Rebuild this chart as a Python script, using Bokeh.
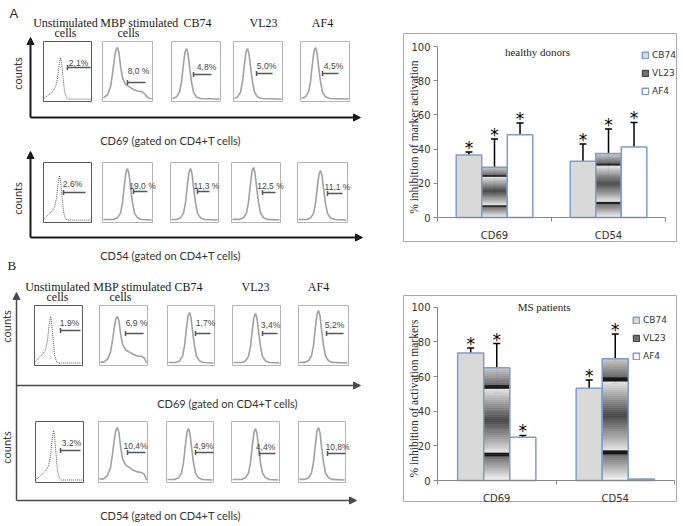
import numpy as np
from math import pi, nan, isnan
from bokeh.plotting import figure
from bokeh.models import (Range1d, LinearAxis, FixedTicker, Label, Legend, LegendItem,
                          Whisker, TeeHead, ColumnDataSource, Arrow, NormalHead, Spacer)
from bokeh.layouts import row, column
from bokeh.core.properties import value
from bokeh.embed import file_html
from bokeh.resources import INLINE

# ---------------- data ----------------
conditions = ["Unstimulated cells", "MBP stimulated cells", "CB74", "VL23", "AF4"]
pct_A_CD69 = ["2,1%", "8,0 %", "4,8%", "5,0%", "4,5%"]
pct_A_CD54 = ["2.6%", "19,0 %", "11,3 %", "12,5 %", "11,1 %"]
pct_B_CD69 = ["1.9%", "6,9 %", "1,7%", "3,4%", "5,2%"]
pct_B_CD54 = ["3.2%", "10,4%", "4,9%", "4,4%", "10,8%"]

markers = ["CD69", "CD54"]
series = ["CB74", "VL23", "AF4"]
yticks = [0, 20, 40, 60, 80, 100]

healthy_mean = {"CB74": [36.6, 32.9], "VL23": [29.4, 37.4], "AF4": [48.4, 41.2]}
healthy_low = {"CB74": [34.6, 22.0], "VL23": [13.2, 23.2], "AF4": [41.4, 27.0]}
healthy_high = {"CB74": [38.3, 43.0], "VL23": [45.9, 51.8], "AF4": [55.3, 55.6]}
healthy_star = {"CB74": [True, True], "VL23": [True, True], "AF4": [True, True]}

ms_mean = {"CB74": [73.5, 53.3], "VL23": [65.0, 70.2], "AF4": [25.0, 0.8]}
ms_low = {"CB74": [70.0, 47.7], "VL23": [51.0, 56.0], "AF4": [23.6, nan]}
ms_high = {"CB74": [76.5, 58.0], "VL23": [79.0, 84.5], "AF4": [26.0, nan]}
ms_star = {"CB74": [True, True], "VL23": [True, True], "AF4": [True, False]}

# ---------------- styles ----------------
EDGE = "#7f9ccb"
CB_FILL = "#d9d9d9"
SERIF = "Liberation Serif"
SANS = "Liberation Sans"


def gray_hex(g):
    g = int(max(0, min(255, round(g))))
    return "#%02x%02x%02x" % (g, g, g)


# gradient stops for the VL23 bars (relative height -> gray level)
GRAD_T = [0.0, 0.22, 0.22, 0.25, 0.25, 0.535, 0.82, 0.82, 0.85, 0.85, 1.0]
GRAD_G = [250, 105, 25, 25, 232, 70, 232, 25, 25, 105, 200]


def make_chart(w, h, xr, yr, bar_w, title, title_xy, ylabel, ylabel_xy,
               mean, low, high, star, legend_loc):
    p = figure(width=w, height=h, x_range=Range1d(*xr), y_range=Range1d(*yr),
               output_backend="svg", toolbar_location=None, min_border=0,
               x_axis_type=None, y_axis_type=None)
    p.outline_line_color = "#a9a9a9"
    p.outline_line_width = 1
    p.background_fill_color = "white"

    rends = {}
    wh_x, wh_lo, wh_hi = [], [], []
    st_x, st_y = [], []
    nsl = 60
    t = (np.arange(nsl) + 0.5) / nsl
    cols = [gray_hex(g) for g in np.interp(t, GRAD_T, GRAD_G)]
    for si, s in enumerate(series):
        xs = [gi + 0.5 + (si - 1) * bar_w for gi in range(len(markers))]
        tops = mean[s]
        if s == "CB74":
            r = p.vbar(x=xs, top=tops, bottom=0, width=bar_w, fill_color=CB_FILL,
                       line_color=EDGE, line_width=1.5)
            rends[s] = r
        elif s == "AF4":
            r = p.vbar(x=xs, top=tops, bottom=0, width=bar_w, fill_color="white",
                       line_color=EDGE, line_width=1.5)
            rends[s] = r
        else:
            bx, bb, bt, bc = [], [], [], []
            for x, v in zip(xs, tops):
                for k in range(nsl):
                    bx.append(x)
                    bb.append(v * k / nsl)
                    bt.append(v * (k + 1) / nsl)
                    bc.append(cols[k])
            p.vbar(x=bx, bottom=bb, top=bt, width=bar_w, fill_color=bc, line_color=bc,
                   line_width=0.6)
            p.vbar(x=xs, top=tops, bottom=0, width=bar_w, fill_color=None,
                   line_color=EDGE, line_width=1.5)
            leg_r = p.vbar(x=xs, top=tops, bottom=0, width=bar_w, fill_color="#6f6f6f",
                           line_color="#333333", line_width=1)
            leg_r.visible = False
            rends[s] = leg_r
        for x, lo, hi, stf in zip(xs, low[s], high[s], star[s]):
            if not isnan(lo):
                wh_x.append(x); wh_lo.append(lo); wh_hi.append(hi)
            if stf:
                st_x.append(x)
                st_y.append(hi if not isnan(hi) else 0)

    src = ColumnDataSource(dict(x=wh_x, lo=wh_lo, hi=wh_hi))
    wk = Whisker(base="x", lower="lo", upper="hi", source=src, dimension="height",
                 line_color="black", line_width=1.5,
                 upper_head=TeeHead(size=7, line_color="black", line_width=1.5),
                 lower_head=TeeHead(size=7, line_color="black", line_width=1.5))
    p.add_layout(wk)
    p.text(x=st_x, y=st_y, text=["*"] * len(st_x), text_align="center",
           text_baseline="alphabetic", y_offset=-4, text_font=value("DejaVu Sans"),
           text_font_size="17px", text_color="black")

    yax = LinearAxis(ticker=FixedTicker(ticks=yticks), bounds=(0, 100), fixed_location=0,
                     axis_line_color="#868686", major_tick_line_color="#868686",
                     major_tick_out=4, major_tick_in=0, minor_tick_line_color=None,
                     major_label_text_font="DejaVu Sans", major_label_text_font_size="10px",
                     major_label_text_color="#333333", major_label_standoff=3)
    p.add_layout(yax, "left")
    xax = LinearAxis(ticker=FixedTicker(ticks=[0.5, 1.5], minor_ticks=[0.0, 1.0, 2.0]),
                     bounds=(0, 2), fixed_location=0,
                     major_label_overrides={i + 0.5: m for i, m in enumerate(markers)},
                     axis_line_color="#868686", major_tick_line_color=None,
                     major_tick_out=0, major_tick_in=0,
                     minor_tick_line_color="#868686", minor_tick_out=4, minor_tick_in=0,
                     major_label_text_font="DejaVu Sans", major_label_text_font_size="10px",
                     major_label_text_color="#333333", major_label_standoff=8)
    p.add_layout(xax, "below")

    p.add_layout(Label(x=title_xy[0], y=title_xy[1], text=title, text_align="center",
                       text_baseline="middle", text_font=SERIF, text_font_size="11px",
                       text_color="#222222"))
    p.add_layout(Label(x=ylabel_xy[0], y=ylabel_xy[1], text=ylabel, angle=pi / 2,
                       text_align="center", text_baseline="middle", text_font=SERIF,
                       text_font_size="11.5px", text_color="#222222"))

    leg = Legend(items=[LegendItem(label=s, renderers=[rends[s]]) for s in series],
                 location=legend_loc, orientation="vertical", glyph_width=8, glyph_height=8,
                 label_height=10, spacing=8, padding=0, margin=0, border_line_color=None,
                 background_fill_alpha=0, label_text_font="DejaVu Sans",
                 label_text_font_size="9px", label_text_color="#333333", label_standoff=3)
    p.add_layout(leg)
    return p


chartA = make_chart(274, 209, (-34 / 114, 2 + 12 / 114), (-25 / 1.71, 100 + 13 / 1.71), 0.224,
                    "healthy donors", (0.877, 97), "% inhibition of marker activation", (-0.21, 47),
                    healthy_mean, healthy_low, healthy_high, healthy_star, (238, 146))
chartB = make_chart(274, 207, (-34 / 118.5, 2 + 3 / 118.5), (-22 / 1.733, 100 + 11.7 / 1.733), 0.22,
                    "MS patients", (0.9, 100.4), "% inhibition of activation markers", (-0.2, 47.3),
                    ms_mean, ms_low, ms_high, ms_star, (229, 141))

# ---------------- flow cytometry panels (drawn on a pixel canvas) ----------------
CW, CH = 403, 526
cv = figure(width=CW, height=CH, x_range=Range1d(0, CW), y_range=Range1d(0, CH),
            output_backend="svg", toolbar_location=None, min_border=0,
            x_axis_type=None, y_axis_type=None)
cv.outline_line_color = None
cv.background_fill_color = "white"


def Y(y):
    return CH - y


TEMPLATES = {
    "unstim": [(-16, 0.05), (-12, 0.12), (-8, 0.2), (-5, 0.3), (-3, 0.5), (-1.5, 0.8), (0, 1.0),
               (1, 0.9), (2.5, 0.55), (4, 0.2), (6, 0.05), (8, 0.02), (30, 0.02)],
    "narrow": [(-14, 0.03), (-10, 0.06), (-7, 0.15), (-5, 0.35), (-3, 0.7), (-1.5, 0.93), (0, 1.0),
               (1.5, 0.9), (3, 0.65), (5, 0.35), (7, 0.15), (10, 0.06), (14, 0.03), (30, 0.02)],
    "mbp": [(-14, 0.04), (-10, 0.1), (-7, 0.25), (-5, 0.5), (-3, 0.8), (-1.5, 0.96), (0, 1.0),
            (1.5, 0.9), (3, 0.65), (5, 0.42), (8, 0.3), (12, 0.25), (16, 0.2), (20, 0.17),
            (24, 0.16), (27, 0.12), (30, 0.05), (34, 0.02)],
}

rows = [
    dict(pct=pct_A_CD69, top=41, bot=101, boxes=[(43, 91), (102, 152), (171, 220), (233, 282), (300, 349)],
         peaks=[(60, 57), (117, 47), (186, 48), (247, 48), (315, 47)],
         shapes=["unstim", "mbp", "narrow", "narrow", "narrow"],
         gates=[(78, 62, 67, 90, 67), (138, 70, 127, 145, 82), (206, 66, 193, 211, 74),
                (266, 65, 256, 272, 73), (333, 65, 322, 338, 73)]),
    dict(pct=pct_A_CD54, top=162, bot=222, boxes=[(43, 91), (102, 152), (170, 218), (231, 280), (297, 347)],
         peaks=[(59, 175), (127, 168), (190, 168), (253, 167), (320, 170)],
         shapes=["unstim", "narrow", "narrow", "narrow", "narrow"],
         gates=[(72, 183, 63, 85, 192), (142, 185, 133, 147, 191), (206, 185, 197, 209, 191),
                (270, 185, 262, 275, 192), (337, 186, 327, 342, 193)]),
    dict(pct=pct_B_CD69, top=305, bot=365, boxes=[(34, 82), (99, 147), (167, 214), (232, 280), (298, 348)],
         peaks=[(50, 316), (117, 316), (189, 312), (255, 313), (318, 310)],
         shapes=["unstim", "mbp", "narrow", "narrow", "narrow"],
         gates=[(69, 322, 60, 80, 330), (136, 322, 125, 143, 333), (205, 322, 195, 210, 333),
                (270, 324, 262, 277, 333), (334, 324, 326, 343, 333)]),
    dict(pct=pct_B_CD54, top=421, bot=482, boxes=[(35, 83), (98, 147), (166, 213), (231, 279), (298, 345)],
         peaks=[(53, 430), (117, 427), (188, 428), (255, 428), (318, 427)],
         shapes=["unstim", "mbp", "narrow", "narrow", "narrow"],
         gates=[(71, 442, 60, 80, 450), (135, 445, 127, 145, 452), (203, 445, 195, 213, 452),
                (265, 446, 259, 275, 453), (337, 446, 327, 345, 453)]),
]

for r in rows:
    # panel boxes
    L = [b[0] for b in r["boxes"]]
    R = [b[1] for b in r["boxes"]]
    cv.quad(left=L, right=R, top=[Y(r["top"])] * 5, bottom=[Y(r["bot"])] * 5,
            fill_color=None, line_color=["#5a5a5a"] + ["#b4b4b4"] * 4, line_width=1)
    solid_x, solid_y, dot_x, dot_y = [], [], [], []
    base = r["bot"] - 1.5
    for (bl, br), (px, py), shp in zip(r["boxes"], r["peaks"], r["shapes"]):
        tpl = TEMPLATES[shp]
        xs, ys = [bl + 1], [tpl[0][1]]
        for dx, f in tpl:
            x = px + dx
            if bl + 1 < x < br - 1:
                xs.append(x); ys.append(f)
        xs.append(br - 1); ys.append(tpl[-1][1])
        yy = [Y(base - f * (base - py)) for f in ys]
        if shp == "unstim":
            dot_x.append(xs); dot_y.append(yy)
        else:
            solid_x.append(xs); solid_y.append(yy)
    cv.multi_line(xs=solid_x, ys=solid_y, line_color="#a0a0a0", line_width=1.6)
    cv.multi_line(xs=dot_x, ys=dot_y, line_color="#555555", line_width=1, line_dash="1 1")
    # gates and percentages
    gx, gy, gt = [], [], []
    seg_x0, seg_x1, seg_y0, seg_y1 = [], [], [], []
    for (tx, ty, x0, x1, ly), lab in zip(r["gates"], r["pct"]):
        gx.append(tx); gy.append(Y(ty)); gt.append(lab)
        seg_x0 += [x0, x0]; seg_x1 += [x1, x0]
        seg_y0 += [Y(ly), Y(ly) - 2.5]; seg_y1 += [Y(ly), Y(ly) + 2.5]
    cv.segment(x0=seg_x0, y0=seg_y0, x1=seg_x1, y1=seg_y1, line_color="#555555", line_width=1.5)
    cv.text(x=gx, y=gy, text=gt, text_align="center", text_baseline="middle",
            text_font=value(SANS), text_font_size="8.5px", text_color="#444444")

# axes with arrows
for (x0, y0, x1, y1, lw, col) in [(30, 117, 30, 37, 2, "#1a1a1a"), (30, 117, 360, 117, 2, "#1a1a1a"),
                                  (30, 237, 30, 151, 2, "#1a1a1a"), (30, 237, 362, 237, 2, "#1a1a1a"),
                                  (16, 500, 16, 292, 1.5, "#4a4a4a"), (16, 385, 360, 385, 1.5, "#4a4a4a"),
                                  (16, 500, 356, 500, 1.5, "#4a4a4a")]:
    cv.add_layout(Arrow(end=NormalHead(size=7, fill_color=col, line_color=col),
                        x_start=x0, y_start=Y(y0), x_end=x1, y_end=Y(y1),
                        line_color=col, line_width=lw))


# headers
def header_lines(c):
    if c.endswith(" cells"):
        return [c[:-6], "cells"]
    return [c]


for xs1, xs2, y1, y2 in [([65, 139, 197, 263, 322], [65, 128], 22, 32),
                         ([57, 132, 188, 255, 318], [57, 120], 286, 296)]:
    hx, hy, ht = [], [], []
    j = 0
    for i, c in enumerate(conditions):
        ls = header_lines(c)
        hx.append(xs1[i]); hy.append(Y(y1)); ht.append(ls[0])
        if len(ls) > 1:
            hx.append(xs2[j]); hy.append(Y(y2)); ht.append(ls[1]); j += 1
    cv.text(x=hx, y=hy, text=ht, text_align="center", text_baseline="middle",
            text_font=value(SERIF), text_font_size="12px", text_color="#1a1a1a")

# marker captions
cap = [f"{m} (gated on CD4+T cells)" for m in markers]
cv.text(x=[170, 170, 227, 170], y=[Y(140), Y(255), Y(403), Y(515)], text=[cap[0], cap[1], cap[0], cap[1]],
        text_align="center", text_baseline="middle", text_font=value("Lato"),
        text_font_size="11px", text_color="#333333")
cv.text(x=[17, 17, 6, 6], y=[Y(73), Y(198), Y(326), Y(447)], text=["counts"] * 4, angle=pi / 2,
        text_align="center", text_baseline="middle", text_font=value("Lato"),
        text_font_size="11px", text_color="#333333")
cv.text(x=[9], y=[Y(13)], text=["A"], text_align="left", text_baseline="middle",
        text_font=value(SANS), text_font_size="13px", text_color="#222222")
cv.text(x=[7], y=[Y(265)], text=["B"], text_align="left", text_baseline="middle",
        text_font=value(SERIF), text_font_size="13px", text_color="#222222")

right = column(Spacer(width=274, height=33), chartA, Spacer(width=274, height=53), chartB)
layout = row(cv, right)
open("out.html", "w").write(file_html(layout, INLINE))
